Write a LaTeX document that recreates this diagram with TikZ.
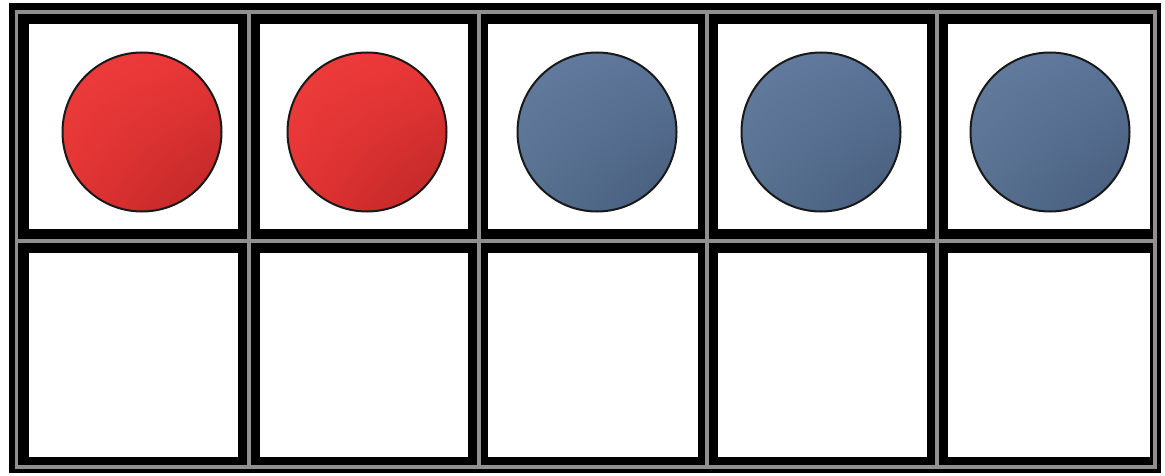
\documentclass[tikz,border=0pt]{standalone}
\usetikzlibrary{shadings}
\definecolor{gridgrey}{HTML}{909090}
\definecolor{redA}{HTML}{EF3D3D}
\definecolor{redB}{HTML}{EA3636}
\definecolor{redC}{HTML}{E43333}
\definecolor{redD}{HTML}{B92626}
\definecolor{bluA}{HTML}{647DA0}
\definecolor{bluB}{HTML}{5B7497}
\definecolor{bluC}{HTML}{587190}
\definecolor{bluD}{HTML}{455B7B}
\tikzset{
  frameblack/.style={fill=black},
  gridline/.style={draw=gridgrey, line width=3.5pt},
  cellbox/.style={fill=white},
  counter/.style={circle, minimum size=159pt, inner sep=0pt, outer sep=0pt,
    draw=black!90, line width=2pt},
  redcounter/.style={counter, upper left=redA, upper right=redB, lower left=redC, lower right=redD},
  bluecounter/.style={counter, upper left=bluA, upper right=bluB, lower left=bluC, lower right=bluD},
}
\begin{document}
\begin{tikzpicture}[x=1pt,y=-1pt]
  % canvas
  \fill[white] (0,0) rectangle (1165,476);
  \useasboundingbox (0,0) rectangle (1165,476);
  % outer black frame
  \fill[frameblack] (9,3) rectangle (1161,473);
  % grey lines
  \draw[gridline] (16.5,12) rectangle (1155,467);
  \foreach \gx in {249,479,707,937} \draw[gridline] (\gx,12) -- (\gx,467);
  \draw[gridline] (16.5,241) -- (1155,241);
  % white cells
  \foreach \xa/\xb in {29/238, 260/468, 488/698, 718/927, 948/1150} {
    \fill[cellbox] (\xa,24) rectangle (\xb,229);
    \fill[cellbox] (\xa,253) rectangle (\xb,457);
  }
  % counters
  \node[redcounter] (c1) at (142,132) {};
  \node[redcounter] (c2) at (367,132) {};
  \node[bluecounter] (c3) at (597,132) {};
  \node[bluecounter] (c4) at (821,132) {};
  \node[bluecounter] (c5) at (1050,132) {};
\end{tikzpicture}
\end{document}
